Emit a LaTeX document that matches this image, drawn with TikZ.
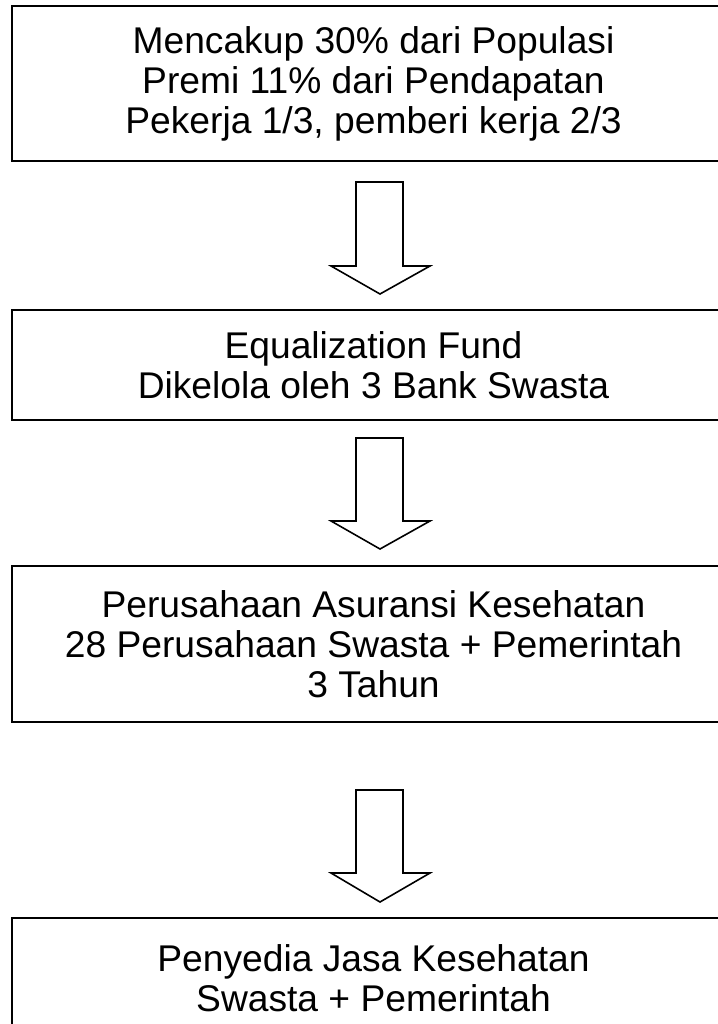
\documentclass[tikz,border=0pt]{standalone}
\usepackage{fontspec}
\setmainfont{Liberation Sans}
\begin{document}
\begin{tikzpicture}[x=1pt,y=-1pt,
  box/.style={draw=black,line width=2.6pt,fill=white,align=center,
    font=\fontsize{37.2}{40}\selectfont,inner sep=0pt,
    minimum width=723pt},
  blockarrow/.style={draw=black,line width=1.6pt,fill=white,line join=miter}]
\useasboundingbox (0,0) rectangle (717,1024);
\fill[white] (0,0) rectangle (717,1024);

\node[box,minimum height=155pt] (b1) at (373.5,83.5)
  {Mencakup 30\% dari Populasi\\Premi 11\% dari Pendapatan\\Pekerja 1/3, pemberi kerja 2/3};
\node[box,minimum height=110pt] (b2) at (373.5,365)
  {Equalization Fund\\Dikelola oleh 3 Bank Swasta};
\node[box,minimum height=156pt] (b3) at (373.5,644)
  {Perusahaan Asuransi Kesehatan\\28 Perusahaan Swasta + Pemerintah\\3 Tahun};
\node[box,minimum height=120pt] (b4) at (373.5,978)
  {Penyedia Jasa Kesehatan\\Swasta + Pemerintah};

% hollow block arrows between the boxes
\foreach \t/\h/\p in {182/266/294, 438/521/549, 790/873/902}{
  \draw[blockarrow] (356,\t) -- (403,\t) -- (403,\h) -- (430,\h)
    -- (380,\p) -- (331,\h) -- (356,\h) -- cycle;
}
\end{tikzpicture}
\end{document}
